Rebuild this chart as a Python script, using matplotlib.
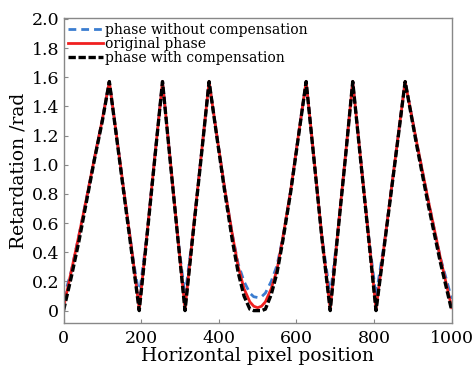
import numpy as np
import matplotlib
matplotlib.use('Agg')
import matplotlib.pyplot as plt

# pixel positions (shared by the three curves)
pixel = [0, 20, 40, 60, 80, 100, 118, 140, 160, 180, 195, 215, 235, 255,
         275, 295, 313, 333, 353, 375, 395, 415, 435, 450, 465, 480, 490,
         500, 510, 520, 535, 550, 565, 585, 605, 625, 645, 665, 687, 707,
         727, 745, 765, 785, 805, 830, 855, 880, 910, 940, 970, 1000]

# phase without compensation (blue dashed)
fase_sem = [0.08, 0.27, 0.52, 0.78, 1.05, 1.31, 1.57, 1.13, 0.73, 0.34, 0.10,
            0.52, 1.05, 1.57, 1.03, 0.49, 0.10, 0.52, 1.02, 1.57, 1.20, 0.84,
            0.52, 0.32, 0.20, 0.12, 0.095, 0.09, 0.095, 0.12, 0.20, 0.31,
            0.50, 0.82, 1.20, 1.57, 1.05, 0.52, 0.10, 0.55, 1.08, 1.57, 1.05,
            0.53, 0.10, 0.53, 1.05, 1.57, 1.15, 0.75, 0.37, 0.08]

# original phase (red)
fase_orig = [0.02, 0.27, 0.52, 0.78, 1.05, 1.31, 1.57, 1.13, 0.73, 0.33, 0.01,
             0.52, 1.05, 1.57, 1.03, 0.49, 0.01, 0.52, 1.02, 1.57, 1.20, 0.84,
             0.52, 0.30, 0.15, 0.06, 0.03, 0.02, 0.03, 0.06, 0.15, 0.28,
             0.50, 0.82, 1.20, 1.57, 1.05, 0.52, 0.01, 0.55, 1.08, 1.57, 1.05,
             0.53, 0.01, 0.53, 1.05, 1.57, 1.15, 0.75, 0.37, 0.02]

# phase with compensation (black dash)
fase_com = [0.00, 0.23, 0.48, 0.76, 1.04, 1.30, 1.57, 1.12, 0.71, 0.31, 0.00,
            0.51, 1.04, 1.57, 1.02, 0.48, 0.00, 0.51, 1.01, 1.57, 1.19, 0.82,
            0.48, 0.26, 0.10, 0.01, 0.00, 0.00, 0.00, 0.01, 0.11, 0.26,
            0.48, 0.81, 1.19, 1.57, 1.04, 0.51, 0.00, 0.54, 1.07, 1.57, 1.04,
            0.52, 0.00, 0.52, 1.04, 1.57, 1.13, 0.72, 0.34, 0.00]

yticks = [0, 0.2, 0.4, 0.6, 0.8, 1.0, 1.2, 1.4, 1.6, 1.8, 2.0]
ytick_labels = ['0', '0.2', '0.4', '0.6', '0.8', '1.0', '1.2', '1.4', '1.6', '1.8', '2.0']
xticks = [0, 200, 400, 600, 800, 1000]

plt.rcParams['font.family'] = ['DejaVu Serif']

fig = plt.figure(figsize=(4.74, 3.70), dpi=100)
ax = fig.add_axes([0.134, 0.127, 0.819, 0.824])

ax.plot(pixel, fase_sem, color='#3b7dd0', lw=2.0, dashes=(2.8, 1.8),
        label='phase without compensation')
ax.plot(pixel, fase_orig, color='#f02020', lw=2.0,
        label='original phase')
ax.plot(pixel, fase_com, color='black', lw=2.4, dashes=(2.2, 0.8),
        label='phase with compensation')

ax.set_xlim(0, 1000)
ax.set_ylim(-0.085, 2.005)
ax.set_xticks(xticks)
ax.set_yticks(yticks)
ax.set_yticklabels(ytick_labels)
ax.tick_params(direction='in', length=3, color='#888888', labelsize=12.5)
ax.tick_params(axis='x', pad=5)
ax.tick_params(axis='y', pad=3)

for s in ax.spines.values():
    s.set_color('#888888')
    s.set_linewidth(1.0)

ax.set_xlabel('Horizontal pixel position', fontsize=13.5, labelpad=0)
ax.set_ylabel('Retardation /rad', fontsize=13.5, labelpad=3)

ax.legend(loc='upper left', frameon=False, fontsize=10, handlelength=2.5,
          handletextpad=0.15, labelspacing=0.0, borderaxespad=0.1,
          borderpad=0.25)

fig.savefig('out.png', dpi=100)
